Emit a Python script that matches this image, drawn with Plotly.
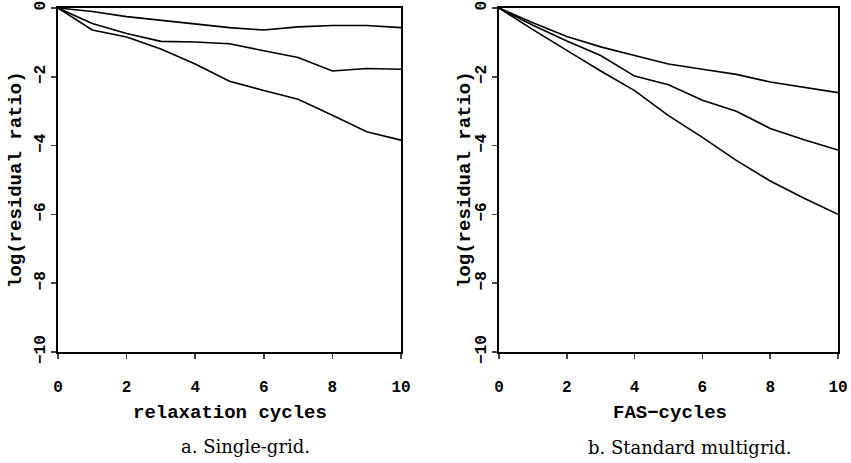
import plotly.graph_objects as go

W, H = 851, 463

cycles = [0, 1, 2, 3, 4, 5, 6, 7, 8, 9, 10]

# a. Single-grid (relaxation cycles)
single_top = [0, -0.10, -0.25, -0.35, -0.45, -0.57, -0.64, -0.55, -0.51, -0.51, -0.57]
single_mid = [0, -0.45, -0.74, -0.97, -0.99, -1.04, -1.24, -1.44, -1.83, -1.76, -1.78]
single_bot = [0, -0.64, -0.84, -1.19, -1.63, -2.13, -2.40, -2.65, -3.12, -3.60, -3.84]

# b. Standard multigrid (FAS-cycles)
multi_top = [0, -0.43, -0.83, -1.13, -1.38, -1.63, -1.78, -1.93, -2.15, -2.30, -2.46]
multi_mid = [0, -0.50, -0.96, -1.38, -1.98, -2.23, -2.68, -3.00, -3.50, -3.83, -4.13]
multi_bot = [0, -0.63, -1.23, -1.83, -2.40, -3.13, -3.76, -4.43, -5.03, -5.53, -6.00]

x_ticks = [0, 2, 4, 6, 8, 10]
y_ticks = [-10, -8, -6, -4, -2, 0]

MONO = "Liberation Mono"
SERIF = "DejaVu Serif"

fig = go.Figure()
line = dict(color="black", width=1.6)
for ys in (single_top, single_mid, single_bot):
    fig.add_trace(go.Scatter(x=cycles, y=ys, mode="lines", line=line, xaxis="x", yaxis="y",
                             showlegend=False, hoverinfo="skip"))
for ys in (multi_top, multi_mid, multi_bot):
    fig.add_trace(go.Scatter(x=cycles, y=ys, mode="lines", line=line, xaxis="x2", yaxis="y2",
                             showlegend=False, hoverinfo="skip"))

def px(x):
    return x / W

def py(y):
    return 1 - y / H

tickfont = dict(family=MONO, size=16, color="black", weight="bold")
common_x = dict(range=[0, 10], tickvals=x_ticks, ticks="outside", ticklen=5, tickwidth=1.5,
                showline=True, linecolor="black", linewidth=1.6, mirror=True, showgrid=False,
                zeroline=False, tickfont=tickfont, fixedrange=True, automargin=False,
                ticklabeloverflow="allow", ticklabelstandoff=14)
common_y = dict(range=[-10, 0], tickvals=y_ticks, ticks="outside", ticklen=5, tickwidth=1.5,
                showline=True, linecolor="black", linewidth=1.6, mirror=True, showgrid=False,
                zeroline=False, tickfont=tickfont, tickangle=-90, fixedrange=True, automargin=False,
                ticklabeloverflow="allow")

fig.update_layout(
    width=W, height=H,
    margin=dict(l=0, r=0, t=0, b=0, pad=0),
    paper_bgcolor="white", plot_bgcolor="white",
    xaxis=dict(domain=[px(58), px(401)], anchor="y", **common_x),
    yaxis=dict(domain=[py(352), py(8)], anchor="x", **common_y),
    xaxis2=dict(domain=[px(499), px(838)], anchor="y2", **common_x),
    yaxis2=dict(domain=[py(352), py(8)], anchor="x2", **common_y),
)

titlefont = dict(family=MONO, size=19, color="black", weight="bold")
capfont = dict(family=SERIF, size=18, color="black")
ann = [
    dict(text="log(residual ratio)", x=px(16), y=py(180), textangle=-90, font=titlefont),
    dict(text="log(residual ratio)", x=px(465), y=py(180), textangle=-90, font=titlefont),
    dict(text="relaxation cycles", x=px(230), y=py(413), font=titlefont),
    dict(text="FAS−cycles", x=px(670), y=py(413), font=titlefont),
    dict(text="a. Single-grid.", x=px(245), y=py(446), font=capfont),
    dict(text="b. Standard multigrid.", x=px(690), y=py(447), font=capfont),
]
for a in ann:
    a.update(xref="paper", yref="paper", showarrow=False, xanchor="center", yanchor="middle")
fig.update_layout(annotations=ann)

fig.write_html(
    "out.html",
    config={"displayModeBar": False, "staticPlot": True},
    post_script="document.body.style.margin='0px';document.body.style.overflow='hidden';",
)
